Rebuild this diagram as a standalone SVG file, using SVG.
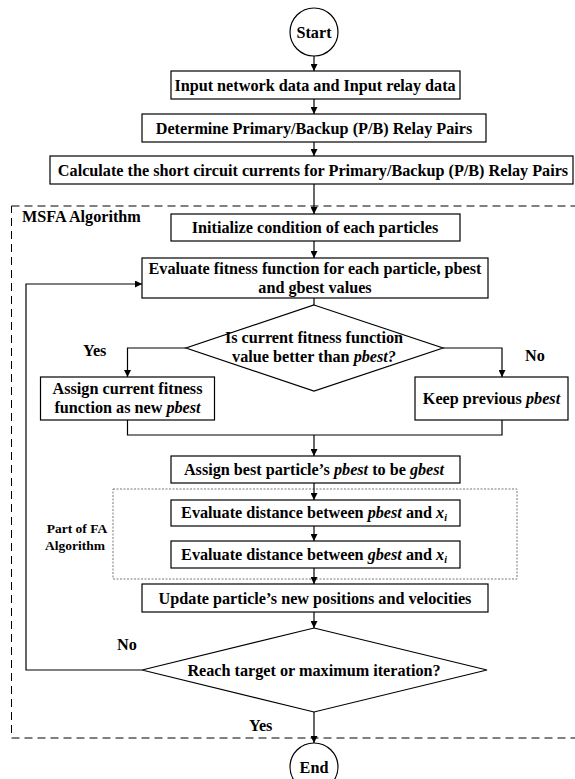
<svg xmlns="http://www.w3.org/2000/svg" width="575" height="779" viewBox="0 0 575 779">
<defs>
<marker id="ah" viewBox="0 0 10 10" refX="10" refY="5" markerWidth="7" markerHeight="7" orient="auto" markerUnits="userSpaceOnUse">
<path d="M0,0 L10,5 L0,10 z" fill="#000"/>
</marker>
<style>
.box{fill:#fff;stroke:#000;stroke-width:1.2}
.t{font-family:"Liberation Serif","Times New Roman",serif;font-weight:bold;font-size:16.2px;fill:#000;text-anchor:middle}
.lab{font-family:"Liberation Serif","Times New Roman",serif;font-weight:bold;font-size:16.2px;fill:#000}
.sm{font-family:"Liberation Serif","Times New Roman",serif;font-weight:bold;font-size:13.5px;fill:#000;text-anchor:middle}
.c{fill:none;stroke:#000;stroke-width:1.2}
.ca{fill:none;stroke:#000;stroke-width:1.2;marker-end:url(#ah)}
.i{font-style:italic}
</style>
</defs>
<rect width="575" height="779" fill="#fff"/>
<g id="msfa-region">
<rect x="11.5" y="206" width="570" height="532" fill="none" stroke="#000" stroke-width="1" stroke-dasharray="8,5"/>
<text class="lab" x="22" y="222">MSFA Algorithm</text>
</g>
<g id="fa-region">
<rect x="113" y="489" width="404" height="90" fill="none" stroke="#555" stroke-width="0.8" stroke-dasharray="2,1.5"/>
<text class="sm" x="77" y="533">Part of FA</text>
<text class="sm" x="75" y="550">Algorithm</text>
</g>
<g id="connectors">
<line class="ca" x1="314" y1="56" x2="314" y2="71"/>
<line class="ca" x1="314" y1="99" x2="314" y2="114"/>
<line class="ca" x1="314" y1="142" x2="314" y2="156"/>
<line class="ca" x1="314" y1="184" x2="314" y2="214"/>
<line class="ca" x1="314" y1="241" x2="314" y2="258"/>
<line class="c" x1="314" y1="298" x2="314" y2="305"/>
<polyline class="ca" points="186,348 127.5,348 127.5,377"/>
<polyline class="ca" points="443,348 502,348 502,377"/>
<polyline class="c" points="127.5,420 127.5,435 502,435 502,420"/>
<line class="ca" x1="314" y1="435" x2="314" y2="456"/>
<line class="ca" x1="314" y1="483" x2="314" y2="500"/>
<line class="ca" x1="314" y1="526" x2="314" y2="541"/>
<line class="ca" x1="314" y1="568" x2="314" y2="584"/>
<line class="ca" x1="314" y1="612" x2="314" y2="628"/>
<polyline class="ca" points="142,670 26,670 26,284 142,284"/>
<line class="ca" x1="314" y1="712" x2="314" y2="743"/>
<text class="lab" x="83" y="356">Yes</text>
<text class="lab" x="525" y="361">No</text>
<text class="lab" x="117" y="650">No</text>
<text class="lab" x="249" y="731">Yes</text>
</g>
<g id="start">
<circle cx="314" cy="32" r="24" class="box"/>
<text class="t" x="314" y="37.5">Start</text>
</g>
<g id="input">
<rect class="box" x="171" y="71" width="289" height="28"/>
<text class="t" x="315" y="90.5">Input network data and Input relay data</text>
</g>
<g id="determine">
<rect class="box" x="142" y="114" width="344" height="28"/>
<text class="t" x="314" y="133.5">Determine Primary/Backup (P/B) Relay Pairs</text>
</g>
<g id="calculate">
<rect class="box" x="50" y="156" width="523" height="28"/>
<text class="t" x="313" y="175.5">Calculate the short circuit currents for Primary/Backup (P/B) Relay Pairs</text>
</g>
<g id="initialize">
<rect class="box" x="171" y="214" width="289" height="27"/>
<text class="t" x="315" y="233">Initialize condition of each particles</text>
</g>
<g id="evaluate-fitness">
<rect class="box" x="142" y="258" width="346" height="40"/>
<text class="t" x="315" y="274">Evaluate fitness function for each particle, pbest</text>
<text class="t" x="315" y="293">and gbest values</text>
</g>
<g id="decision-pbest">
<polygon class="box" points="314,305 443,348 314,391 186,348"/>
<text class="t" x="314" y="343">Is current fitness function</text>
<text class="t" x="314" y="362">value better than <tspan class="i">pbest?</tspan></text>
</g>
<g id="assign-new">
<rect class="box" x="40.5" y="377" width="174" height="43"/>
<text class="t" x="127.5" y="394">Assign current fitness</text>
<text class="t" x="127.5" y="413">function as new <tspan class="i">pbest</tspan></text>
</g>
<g id="keep-previous">
<rect class="box" x="415" y="377" width="153" height="43"/>
<text class="t" x="491.5" y="403.5">Keep previous <tspan class="i">pbest</tspan></text>
</g>
<g id="assign-gbest">
<rect class="box" x="171" y="456" width="289" height="27"/>
<text class="t" x="314" y="475">Assign best particle’s <tspan class="i">pbest</tspan> to be <tspan class="i">gbest</tspan></text>
</g>
<g id="dist-pbest">
<rect class="box" x="171" y="500" width="289" height="26"/>
<text class="t" x="314" y="518">Evaluate distance between <tspan class="i">pbest</tspan> and <tspan class="i">x</tspan><tspan class="i" font-size="10" dy="3">i</tspan></text>
</g>
<g id="dist-gbest">
<rect class="box" x="171" y="541" width="289" height="27"/>
<text class="t" x="314" y="560">Evaluate distance between <tspan class="i">gbest</tspan> and <tspan class="i">x</tspan><tspan class="i" font-size="10" dy="3">i</tspan></text>
</g>
<g id="update">
<rect class="box" x="142" y="584" width="346" height="28"/>
<text class="t" x="315" y="603.5">Update particle’s new positions and velocities</text>
</g>
<g id="decision-stop">
<polygon class="box" points="314,628 487,670 314,712 142,670"/>
<text class="t" x="314" y="675.5">Reach target or maximum iteration?</text>
</g>
<g id="end">
<circle cx="314" cy="767" r="24" class="box"/>
<text class="t" x="314" y="772.5">End</text>
</g>
</svg>
